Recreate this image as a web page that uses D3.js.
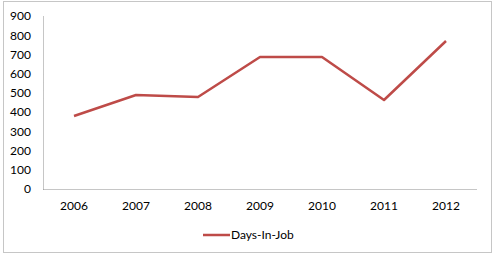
<!DOCTYPE html>
<html>
<head>
<meta charset="utf-8">
<script src="https://cdn.jsdelivr.net/npm/d3@7"></script>
<style>
  body { margin: 0; background: #fff; }
  text { font-family: Lato, "Open Sans", "DejaVu Sans", sans-serif; font-size: 12px; fill: #000; }
</style>
</head>
<body>
<svg id="chart" width="494" height="256"></svg>
<script>
const years = ['2006', '2007', '2008', '2009', '2010', '2011', '2012'];
const daysInJob = [380, 489, 479, 687, 687, 463, 770];
const yTicks = [0, 100, 200, 300, 400, 500, 600, 700, 800, 900];
const seriesName = 'Days-In-Job';

const svg = d3.select('#chart');
const width = +svg.attr('width');
const height = +svg.attr('height');

// outer chart frame
svg.append('rect')
    .attr('x', 3.5).attr('y', 1.5)
    .attr('width', 488).attr('height', 251)
    .attr('fill', '#fff')
    .attr('stroke', '#8c8c8c')
    .attr('stroke-dasharray', '1,1');

const margin = {top: 16, right: 17, bottom: 67, left: 43};
const innerWidth = width - margin.left - margin.right;
const innerHeight = height - margin.top - margin.bottom;

const xScale = d3.scaleBand()
    .domain(years)
    .range([0, innerWidth]);

const yScale = d3.scaleLinear()
    .domain([0, 900])
    .range([innerHeight, 0]);

const g = svg.append('g')
    .attr('transform', 'translate(' + margin.left + ',' + margin.top + ')');

const yAxis = d3.axisLeft(yScale).tickValues(yTicks).tickSize(0).tickPadding(12);
const xAxis = d3.axisBottom(xScale).tickSize(0).tickPadding(12);

const yg = g.append('g').call(yAxis);
const xg = g.append('g').attr('transform', 'translate(0,' + innerHeight + ')').call(xAxis);

[yg, xg].forEach(a => {
    a.attr('font-family', null).attr('font-size', null);
    a.select('.domain')
        .attr('stroke', '#8c8c8c')
        .attr('stroke-dasharray', '1,1');
});

const line = d3.line()
    .x((d, i) => xScale(years[i]) + xScale.bandwidth() / 2)
    .y(d => yScale(d));

g.append('path')
    .datum(daysInJob)
    .attr('fill', 'none')
    .attr('stroke', '#be4b48')
    .attr('stroke-width', 2.5)
    .attr('stroke-linejoin', 'round')
    .attr('d', line);

// legend
const legend = svg.append('g').attr('transform', 'translate(203,235)');
legend.append('line')
    .attr('x1', 0).attr('x2', 27)
    .attr('y1', 0).attr('y2', 0)
    .attr('stroke', '#be4b48')
    .attr('stroke-width', 2.5);
legend.append('text')
    .attr('x', 28).attr('y', 0)
    .attr('dy', '0.35em')
    .text(seriesName);
</script>
</body>
</html>
